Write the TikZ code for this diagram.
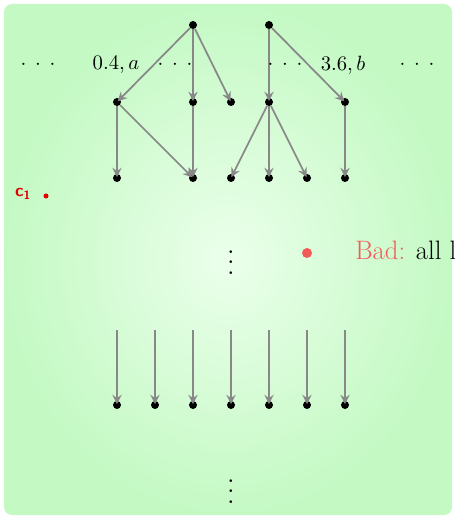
\documentclass[tikz,border=0pt]{standalone}
\usepackage{graphicx}
\usetikzlibrary{arrows.meta}
\definecolor{bgout}{HTML}{C4F9C4}
\definecolor{bgin}{HTML}{EBFFEB}
\definecolor{edgegray}{HTML}{888888}
\definecolor{badred}{HTML}{F25A5A}
\definecolor{penred}{HTML}{E00000}
\newcommand{\biglbl}[1]{\scalebox{1.55}{$#1$}}
\newcommand{\wdots}{\scalebox{1.55}{$\mathord{\cdot}\hspace{4.2pt}\mathord{\cdot}\hspace{4.2pt}\mathord{\cdot}$}}
\newcommand{\bigvd}{\scalebox{1.9}{$\vdots$}}
\begin{document}
\begin{tikzpicture}[x=0.75pt,y=-0.75pt,
  dot/.style={circle,fill=black,inner sep=0pt,minimum size=6pt},
  edge/.style={draw=edgegray,line width=1.3pt,-{Stealth[length=7pt,width=7pt,inset=2.5pt]},shorten >=-2.5pt},
  lbl/.style={inner sep=0pt},
  vd/.style={inner sep=0pt}]
\useasboundingbox (0,0) rectangle (454,516);
\clip (0,0) rectangle (454,516);
\shade[inner color=bgin,outer color=bgout,rounded corners=6pt] (4,4) rectangle (452,515);
% top nodes
\node[dot] (t1) at (193,25) {};
\node[dot] (t2) at (269,25) {};
% row 2
\node[dot] (a1) at (117,102) {};
\node[dot] (a3) at (193,102) {};
\node[dot] (a4) at (231,102) {};
\node[dot] (a5) at (269,102) {};
\node[dot] (a7) at (345,102) {};
% row 3
\node[dot] (b1) at (117,178) {};
\node[dot] (b3) at (193,178) {};
\node[dot] (b4) at (231,178) {};
\node[dot] (b5) at (269,178) {};
\node[dot] (b6) at (307,178) {};
\node[dot] (b7) at (345,178) {};
% edges
\draw[edge] (t1) -- (a1);
\draw[edge] (t1) -- (a3);
\draw[edge] (t1) -- (a4);
\draw[edge] (t2) -- (a5);
\draw[edge] (t2) -- (a7);
\draw[edge] (a1) -- (b1);
\draw[edge] (a1) -- (b3);
\draw[edge] (a3) -- (b3);
\draw[edge] (a5) -- (b4);
\draw[edge] (a5) -- (b5);
\draw[edge] (a5) -- (b6);
\draw[edge] (a7) -- (b7);
% labels row
\node[lbl] (d1) at (38,65) {\wdots};
\node[lbl] (l1) at (116,65) {\biglbl{0.4, a}};
\node[lbl] (d2) at (175,65) {\wdots};
\node[lbl] (d3) at (285,65) {\wdots};
\node[lbl] (l2) at (343,65) {\biglbl{3.6, b}};
\node[lbl] (d4) at (417,65) {\wdots};
% annotation
\node[inner sep=0pt,text=penred,font=\sffamily\bfseries\fontsize{13}{15}\selectfont] (c1) at (23,194) {c\textsubscript{1}};
\fill[penred] (46,196) circle (2.5);
% middle
\node[vd] (v1) at (231,255) {\bigvd};
\fill[badred] (307,253) circle (5);
\node[anchor=base west,inner sep=0pt,font=\fontsize{20}{24}\selectfont] (bad) at (355,259) {\textcolor{badred}{Bad:} all levels};
% bottom row
\foreach \i/\x in {1/117,2/155,3/193,4/231,5/269,6/307,7/345}{
  \coordinate (s\i) at (\x,330);
  \node[dot] (e\i) at (\x,405) {};
  \draw[edge] (s\i) -- (e\i);
}
\node[vd] (v2) at (231,484) {\bigvd};
\end{tikzpicture}
\end{document}
